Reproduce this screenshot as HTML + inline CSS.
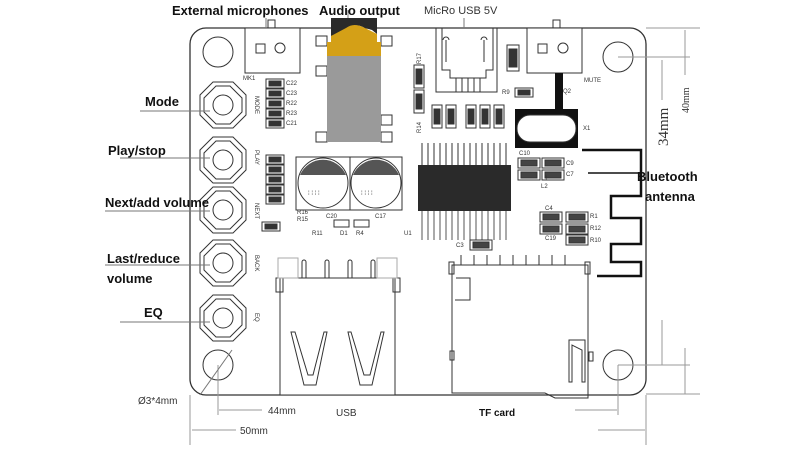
<!DOCTYPE html>
<html><head><meta charset="utf-8"><style>
html,body{margin:0;padding:0;background:#fff;}
svg{display:block;font-family:"Liberation Sans",sans-serif;}
.b{font-weight:bold;font-size:13px;fill:#111}
.s{font-size:6px;fill:#333}
</style></head><body>
<svg width="800" height="450" viewBox="0 0 800 450" xmlns="http://www.w3.org/2000/svg">
<g fill="none" stroke="#333" stroke-width="1">
<!-- board -->
<rect x="190" y="28" width="456" height="367" rx="16" stroke-width="1.3"/>
<!-- holes -->
<circle cx="218" cy="52" r="15"/><circle cx="618" cy="57" r="15"/>
<circle cx="218" cy="365" r="15"/><circle cx="618" cy="365" r="15"/>
<!-- dimension lines -->
<line x1="646" y1="28" x2="700" y2="28" stroke="#999"/>
<line x1="646" y1="394" x2="700" y2="394" stroke="#999"/>
<line x1="618" y1="57" x2="690" y2="57" stroke="#999"/>
<line x1="618" y1="365" x2="690" y2="365" stroke="#999"/>
<line x1="685" y1="30" x2="685" y2="75" stroke="#999"/><line x1="685" y1="348" x2="685" y2="394" stroke="#999"/>
<line x1="662" y1="60" x2="662" y2="100" stroke="#999"/><line x1="662" y1="320" x2="662" y2="365" stroke="#999"/>
<line x1="190" y1="395" x2="190" y2="445" stroke="#999"/><line x1="646" y1="395" x2="646" y2="445" stroke="#999"/>
<line x1="218" y1="365" x2="218" y2="415" stroke="#999"/><line x1="618" y1="365" x2="618" y2="415" stroke="#999"/>
<line x1="219" y1="410" x2="262" y2="410" stroke="#999"/><line x1="575" y1="410" x2="617" y2="410" stroke="#999"/>
<line x1="192" y1="430" x2="236" y2="430" stroke="#999"/><line x1="598" y1="430" x2="645" y2="430" stroke="#999"/>
<line x1="200" y1="395" x2="232" y2="350" stroke="#777"/>
<!-- mic connector -->
<rect x="245" y="28" width="55" height="45" fill="#fff"/>
<rect x="268" y="20" width="7" height="8"/>
<rect x="256" y="44" width="9" height="9"/><circle cx="280" cy="48" r="5"/>
<!-- mute connector -->
<rect x="527" y="28" width="55" height="45" fill="#fff"/>
<rect x="553" y="20" width="7" height="8"/>
<rect x="538" y="44" width="9" height="9"/><circle cx="563" cy="48" r="5"/>
<!-- audio jack tabs -->
<rect x="316" y="36" width="11" height="10"/><rect x="316" y="66" width="11" height="10"/><rect x="316" y="132" width="11" height="10"/>
<rect x="381" y="36" width="11" height="10"/><rect x="381" y="115" width="11" height="10"/><rect x="381" y="132" width="11" height="10"/>
<!-- micro usb -->
<rect x="436" y="28" width="61" height="64"/>
<path d="M442 28 V70 H450 V78 H486 V70 H493 V28"/>
<path d="M446 62 V40 M443 40 a3 3 0 0 1 6 0 M484 62 V40 M481 40 a3 3 0 0 1 6 0"/>
<path d="M456 78 V92 M462 78 V92 M468 78 V92 M474 78 V92 M480 78 V92"/>
<!-- buttons -->
<g id="btns">
<polygon points="213,82 233,82 246,95 246,115 233,128 213,128 200,115 200,95"/>
<polygon points="216,86 230,86 242,98 242,112 230,124 216,124 204,112 204,98"/>
<circle cx="223" cy="105" r="10"/>
</g>
<use href="#btns" y="55"/><use href="#btns" y="105"/><use href="#btns" y="158"/><use href="#btns" y="213"/>
<!-- electrolytic caps -->
<rect x="296" y="157" width="54" height="53"/><rect x="350" y="157" width="52" height="53"/>
<circle cx="323" cy="183" r="25"/><circle cx="376" cy="183" r="25"/>
<!-- IC pins -->
<path d="M422 143 V165 M428 143 V165 M434 143 V165 M440 143 V165 M446 143 V165 M452 143 V165 M458 143 V165 M464 143 V165 M470 143 V165 M476 143 V165 M482 143 V165 M488 143 V165 M494 143 V165 M500 143 V165 M506 143 V165"/>
<path d="M422 211 V240 M428 211 V240 M434 211 V240 M440 211 V240 M446 211 V240 M452 211 V240 M458 211 V240 M464 211 V240 M470 211 V240 M476 211 V240 M482 211 V240 M488 211 V240 M494 211 V240 M500 211 V240 M506 211 V240" stroke="#555"/>
<!-- USB -->
<rect x="280" y="278" width="115" height="117" fill="#fff"/>
<rect x="276" y="278" width="7" height="14"/><rect x="393" y="278" width="7" height="14"/>
<rect x="278" y="258" width="20" height="20" stroke="#aaa"/><rect x="377" y="258" width="20" height="20" stroke="#aaa"/>
<path d="M302 278 V262 a2 2 0 0 1 4 0 V278 M325 278 V262 a2 2 0 0 1 4 0 V278 M348 278 V262 a2 2 0 0 1 4 0 V278 M371 278 V262 a2 2 0 0 1 4 0 V278"/>
<path d="M291 332 L304 385 H316 L327 332 L324 332 L313 375 H308 L295 332 Z"/>
<path d="M348 332 L360 385 H372 L384 332 L381 332 L370 375 H364 L351 332 Z"/>
<!-- TF card -->
<path d="M452 265 H588 V398 L555 398 L545 393 H452 Z"/>
<rect x="449" y="262" width="5" height="12"/><rect x="585" y="262" width="5" height="12"/>
<path d="M456 278 H470 V300 H455"/>
<path d="M569 340 H585 V382 H582 V350 L572 345 V382 H569 Z"/>
<path d="M461 265 V255 M474 265 V255 M487 265 V255 M500 265 V255 M513 265 V255 M526 265 V255 M539 265 V255 M552 265 V255 M565 265 V255"/>
<rect x="450" y="351" width="4" height="9"/><rect x="589" y="352" width="4" height="9"/>
<!-- SMD rows -->
<g id="smd"><rect x="266" y="79" width="18" height="9"/><rect x="269" y="81" width="12" height="5" fill="#333"/></g>
<use href="#smd" y="10"/><use href="#smd" y="20"/><use href="#smd" y="30"/><use href="#smd" y="40"/>
<use href="#smd" y="76"/><use href="#smd" y="86"/><use href="#smd" y="96"/><use href="#smd" y="106"/><use href="#smd" y="116"/>
<use href="#smd" x="-4" y="143"/>
<g id="v"><rect x="414" y="65" width="10" height="23"/><rect x="416" y="69" width="6" height="15" fill="#333"/></g>
<use href="#v" y="25"/>
<use href="#v" x="18" y="40"/><use href="#v" x="32" y="40"/><use href="#v" x="52" y="40"/><use href="#v" x="66" y="40"/><use href="#v" x="80" y="40"/>
<rect x="507" y="45" width="12" height="26"/><rect x="509" y="49" width="8" height="18" fill="#333"/>
<rect x="515" y="88" width="18" height="9"/><rect x="518" y="90" width="12" height="5" fill="#333"/>
<g id="h"><rect x="518" y="158" width="22" height="10"/><rect x="521" y="160" width="16" height="6" fill="#444"/></g>
<use href="#h" x="24"/><use href="#h" y="12"/><use href="#h" x="24" y="12"/>
<rect x="518" y="170" width="22" height="10"/>
<use href="#h" x="22" y="54"/><use href="#h" x="48" y="54"/><use href="#h" x="22" y="66"/><use href="#h" x="48" y="66"/><use href="#h" x="48" y="77"/>
<use href="#h" x="-48" y="82"/>
<rect x="334" y="220" width="15" height="7"/><rect x="354" y="220" width="15" height="7"/>
<!-- mute to q2 -->
<rect x="555" y="73" width="8" height="38" fill="#111" stroke="none"/>
<rect x="515" y="109" width="63" height="39" fill="#111" stroke="none"/>
<rect x="517" y="115" width="59" height="27" rx="13" fill="#fff"/>
<!-- IC body -->
<rect x="418" y="165" width="93" height="46" fill="#2a2a2a" stroke="none"/>
<!-- antenna -->
<path d="M582 150 H641 V196 H611 V218 H641 V244 H611 V262 H641 V276 H597" stroke="#111" stroke-width="2.5"/>
<line x1="588" y1="173" x2="641" y2="173" stroke="#111" stroke-width="1.5"/>
<!-- label leader lines -->
<path d="M140 111 H210 M120 158 H210 M105 211 H210 M105 265 H210 M120 322 H210 M266 18 V28 M348 10 V18 M464 18 V28" stroke="#777"/>
</g>
<!-- jack -->
<rect x="327" y="42" width="54" height="14" fill="#d4a017"/>
<rect x="327" y="56" width="54" height="86" fill="#9a9a9a"/>
<path d="M331 18 H377 V34 L372 30 L365 28 Q354 22 346 30 L338 34 L331 36 Z" fill="#2a2a2a"/>
<path d="M331 36 L346 28 Q354 22 365 28 L377 34 V42 H331Z" fill="#d4a017"/>
<!-- cap tops -->
<path d="M300 175 A25 25 0 0 1 346 175 Z" fill="#555"/>
<path d="M353 175 A25 25 0 0 1 399 175 Z" fill="#555"/>
<g fill="#444" font-size="6">
<text x="308" y="195">⁞ ⁞ ⁞ ⁞</text><text x="361" y="195">⁞ ⁞ ⁞ ⁞</text>
</g>
<!-- small labels -->
<g class="s">
<text x="243" y="80">MK1</text><text x="286" y="85">C22</text><text x="286" y="95">C23</text><text x="286" y="105">R22</text><text x="286" y="115">R23</text><text x="286" y="125">C21</text>
<text x="584" y="82">MUTE</text><text x="502" y="94">R9</text><text x="563" y="93">Q2</text><text x="583" y="130">X1</text>
<text x="519" y="155">C10</text><text x="566" y="165">C9</text><text x="566" y="176">C7</text><text x="541" y="180">L1</text><text x="541" y="188">L2</text>
<text x="545" y="210">C4</text><text x="590" y="218">R1</text><text x="590" y="230">R12</text><text x="590" y="242">R10</text><text x="545" y="240">C19</text>
<text x="456" y="247">C3</text><text x="404" y="235">U1</text><text x="312" y="235">R11</text><text x="340" y="235">D1</text><text x="356" y="235">R4</text>
<text x="326" y="218">C20</text><text x="375" y="218">C17</text><text x="297" y="214">R16</text><text x="297" y="221">R15</text>
</g>
<g class="s" font-size="6">
<text transform="translate(255,96) rotate(90)">MODE</text><text transform="translate(255,150) rotate(90)">PLAY</text>
<text transform="translate(255,203) rotate(90)">NEXT</text><text transform="translate(255,255) rotate(90)">BACK</text>
<text transform="translate(255,313) rotate(90)">EQ</text>
<text transform="translate(421,64) rotate(-90)">R17</text><text transform="translate(421,133) rotate(-90)">R14</text>
</g>
<!-- main labels -->
<text class="b" x="172" y="15">External microphones</text>
<text class="b" x="319" y="15">Audio output</text>
<text x="424" y="14" font-size="11" fill="#333">MicRo USB 5V</text>
<text class="b" x="145" y="106">Mode</text>
<text class="b" x="108" y="155">Play/stop</text>
<text class="b" x="105" y="207">Next/add volume</text>
<text class="b" x="107" y="263">Last/reduce</text>
<text class="b" x="107" y="283">volume</text>
<text class="b" x="144" y="317">EQ</text>
<text class="b" x="637" y="181">Bluetooth</text>
<text class="b" x="645" y="201">antenna</text>
<text x="138" y="404" font-size="10" fill="#333">Ø3*4mm</text>
<text x="268" y="414" font-size="10" fill="#333">44mm</text>
<text x="240" y="434" font-size="10" fill="#333">50mm</text>
<text x="336" y="416" font-size="10" fill="#333">USB</text>
<text x="479" y="416" font-size="10" fill="#111" font-weight="bold">TF card</text>
<text transform="translate(668,146) rotate(-90)" font-family="Liberation Serif,serif" font-size="15" fill="#333">34mm</text>
<text transform="translate(689,113) rotate(-90)" font-family="Liberation Serif,serif" font-size="10" fill="#333">40mm</text>
</svg>
</body></html>
